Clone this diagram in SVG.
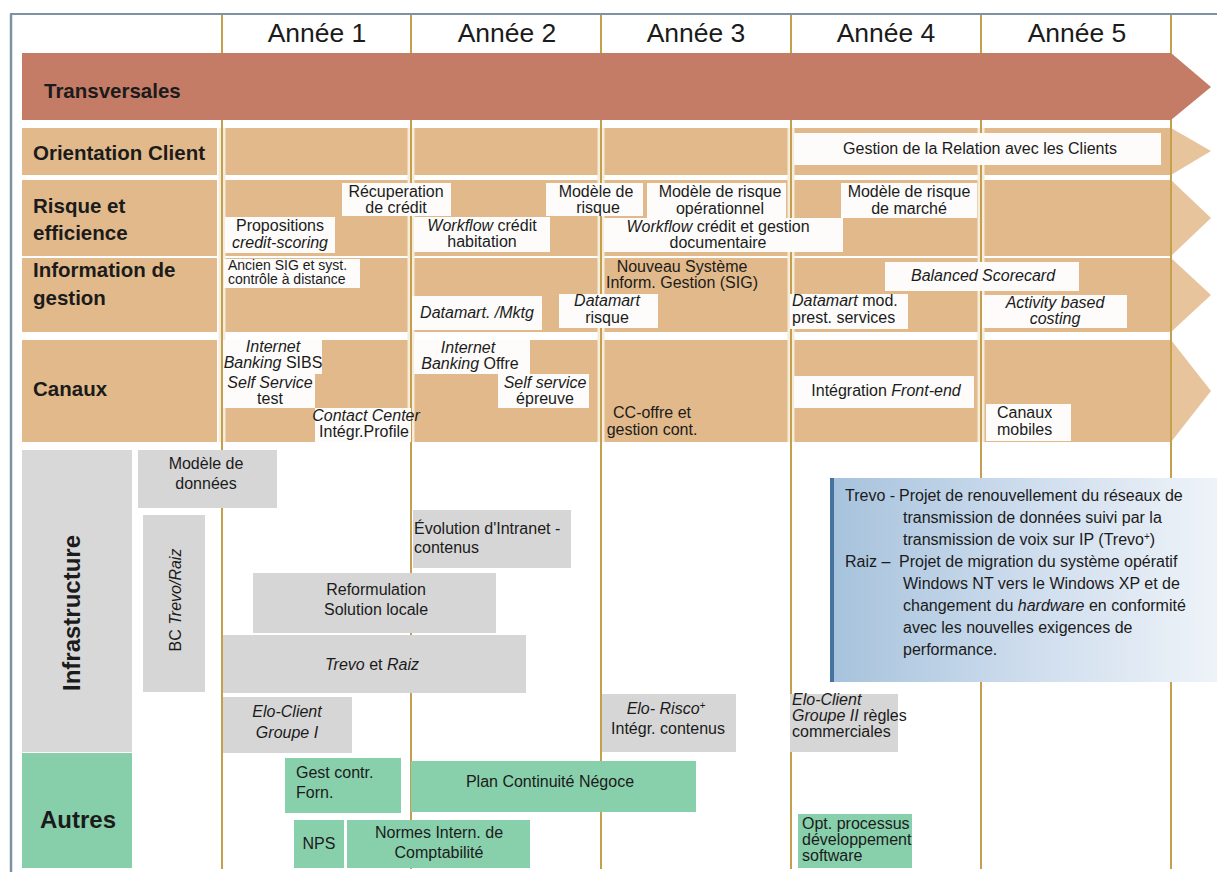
<svg xmlns="http://www.w3.org/2000/svg" width="1217" height="872" viewBox="0 0 1217 872">
<defs>
<style>
text{font-family:"Liberation Sans",Arial,Helvetica,sans-serif;font-size:16px;fill:#1b1b1b}
.c{text-anchor:middle}
.i{font-style:italic}
.lbl{font-weight:bold;font-size:20.5px}
.big{font-weight:bold;font-size:24px}
.hdr{font-size:26.5px}
.s14{font-size:14px}
.tan{fill:#e1b98a}
.head{fill:#e7c49b}
.wb{fill:#fdfcfa}
.gb{fill:#d6d6d6}
.gr{fill:#88cfab}
.col{stroke:#c4a04e;stroke-width:2}
.colw{stroke:#f6ecdc;stroke-width:7}
.nt{font-size:16px}
</style>
<linearGradient id="noteg" x1="0" y1="0" x2="1" y2="0">
<stop offset="0" stop-color="#a6c2dc"/>
<stop offset="0.5" stop-color="#cddced"/>
<stop offset="1" stop-color="#eef3f8"/>
</linearGradient>
</defs>
<rect x="0" y="0" width="1217" height="872" fill="#ffffff"/>

<g id="rows">
<rect class="tan" x="22" y="128" width="195" height="47"/>
<rect class="tan" x="222" y="128" width="949" height="47"/>
<polygon class="head" points="1171,128 1211,151 1171,175"/>
<rect class="tan" x="22" y="180" width="195" height="76"/>
<rect class="tan" x="222" y="180" width="949" height="76"/>
<polygon class="head" points="1171,180 1211,218 1171,256"/>
<rect class="tan" x="22" y="258" width="195" height="74"/>
<rect class="tan" x="222" y="258" width="949" height="74"/>
<polygon class="head" points="1171,258 1211,295 1171,332"/>
<rect class="tan" x="22" y="340" width="195" height="102"/>
<rect class="tan" x="222" y="340" width="949" height="102"/>
<polygon class="head" points="1171,340 1211,391 1171,442"/>
</g>

<g id="grid">
<g class="colw">
<line x1="222" y1="128" x2="222" y2="442"/><line x1="411" y1="128" x2="411" y2="442"/><line x1="601" y1="128" x2="601" y2="442"/><line x1="791" y1="128" x2="791" y2="442"/><line x1="981" y1="128" x2="981" y2="442"/>
</g>
<g class="col">
<line x1="222" y1="14" x2="222" y2="869"/><line x1="411" y1="14" x2="411" y2="869"/><line x1="601" y1="14" x2="601" y2="869"/><line x1="791" y1="14" x2="791" y2="869"/><line x1="981" y1="14" x2="981" y2="869"/><line x1="1171" y1="14" x2="1171" y2="869"/>
</g>
<line x1="10" y1="14" x2="1217" y2="14" stroke="#7d93a3" stroke-width="2"/>
<line x1="11" y1="14" x2="11" y2="872" stroke="#7d93a3" stroke-width="2.5"/>
</g>

<g id="header">
<text class="hdr c" x="317" y="42">Année 1</text>
<text class="hdr c" x="507" y="42">Année 2</text>
<text class="hdr c" x="696" y="42">Année 3</text>
<text class="hdr c" x="886" y="42">Année 4</text>
<text class="hdr c" x="1077" y="42">Année 5</text>
</g>

<g id="transversales">
<path d="M22,53 H1171 L1211,87 L1171,120 H22 Z" fill="#c57c67"/>
<text class="lbl" x="44" y="98">Transversales</text>
</g>

<g id="row-labels">
<text class="lbl" x="33" y="160">Orientation Client</text>
<text class="lbl" x="33" y="213">Risque et</text>
<text class="lbl" x="33" y="240">efficience</text>
<text class="lbl" x="33" y="277">Information de</text>
<text class="lbl" x="33" y="305">gestion</text>
<text class="lbl" x="33" y="396">Canaux</text>
</g>

<g id="gestion-relation"><rect class="wb" x="794" y="133" width="367" height="32"/><text class="c" x="980" y="154" font-size="16.5">Gestion de la Relation avec les Clients</text></g>

<g id="recuperation"><rect class="wb" x="342" y="183" width="109" height="33"/><text class="c" x="396" y="197">Récuperation</text><text class="c" x="396" y="213">de crédit</text></g>
<g id="modele-risque"><rect class="wb" x="546" y="183" width="97" height="33"/><text class="c" x="596" y="197">Modèle de</text><text class="c" x="598" y="213">risque</text></g>
<g id="modele-operationnel"><rect class="wb" x="647" y="183" width="139" height="35"/><text class="c" x="720" y="197">Modèle de risque</text><text class="c" x="720" y="214">opérationnel</text></g>
<g id="modele-marche"><rect class="wb" x="841" y="183" width="136" height="35"/><text class="c" x="909" y="197">Modèle de risque</text><text class="c" x="909" y="214">de marché</text></g>
<g id="propositions"><rect class="wb" x="225" y="217" width="110" height="36"/><text class="c" x="280" y="231">Propositions</text><text class="c i" x="280" y="248">credit-scoring</text></g>
<g id="workflow-habitation"><rect class="wb" x="414" y="217" width="136" height="35"/><text class="c" x="482" y="231"><tspan class="i">Workflow</tspan> crédit</text><text class="c" x="482" y="247">habitation</text></g>
<g id="workflow-documentaire"><rect class="wb" x="604" y="218" width="239" height="34"/><text class="c" x="718" y="232"><tspan class="i">Workflow</tspan> crédit et gestion</text><text class="c" x="718" y="248">documentaire</text></g>

<g id="ancien-sig"><rect class="wb" x="224" y="259" width="136" height="29"/><text class="s14" x="228" y="270">Ancien SIG et syst.</text><text class="s14" x="228" y="284">contrôle à distance</text></g>
<g id="nouveau-sig"><text class="c" x="682" y="272">Nouveau Système</text><text class="c" x="682" y="288">Inform. Gestion (SIG)</text></g>
<g id="balanced"><rect class="wb" x="885" y="262" width="194" height="29"/><text class="c i" x="983" y="281" font-size="16.5">Balanced Scorecard</text></g>
<g id="datamart-mktg"><rect class="wb" x="412" y="296" width="130" height="34"/><text class="c i" x="477" y="318">Datamart. /Mktg</text></g>
<g id="datamart-risque"><rect class="wb" x="559" y="294" width="99" height="34"/><text class="c i" x="607" y="306">Datamart</text><text class="c" x="607" y="323">risque</text></g>
<g id="datamart-mod"><rect class="wb" x="790" y="294" width="118" height="35"/><text x="792" y="306"><tspan class="i">Datamart</tspan> mod.</text><text x="792" y="323">prest. services</text></g>
<g id="activity-based"><rect class="wb" x="982" y="295" width="145" height="33"/><text class="c i" x="1055" y="308">Activity based</text><text class="c i" x="1055" y="324">costing</text></g>

<g id="ib-sibs"><rect class="wb" x="223" y="340" width="99" height="34"/><text class="c i" x="273" y="352">Internet</text><text class="c" x="273" y="368"><tspan class="i">Banking</tspan> SIBS</text></g>
<g id="self-service-test"><rect class="wb" x="223" y="374" width="92" height="34"/><text class="c i" x="270" y="388">Self Service</text><text class="c" x="270" y="404">test</text></g>
<g id="contact-center"><rect class="wb" x="315" y="408" width="96" height="34"/><text class="c i" x="366" y="421">Contact Center</text><text class="c" x="364" y="437">Intégr.Profile</text></g>
<g id="ib-offre"><rect class="wb" x="414" y="340" width="116" height="34"/><text class="c i" x="468" y="353">Internet</text><text class="c" x="470" y="369"><tspan class="i">Banking</tspan> Offre</text></g>
<g id="self-service-epreuve"><rect class="wb" x="498" y="374" width="91" height="34"/><text class="c i" x="545" y="388">Self service</text><text class="c" x="545" y="404">épreuve</text></g>
<g id="cc-offre"><text class="c" x="652" y="418">CC-offre et</text><text class="c" x="652" y="435">gestion cont.</text></g>
<g id="front-end"><rect class="wb" x="794" y="376" width="180" height="32"/><text class="c" x="886" y="396">Intégration <tspan class="i">Front-end</tspan></text></g>
<g id="canaux-mobiles"><rect class="wb" x="986" y="404" width="85" height="37"/><text x="997" y="418">Canaux</text><text x="997" y="435">mobiles</text></g>

<g id="infrastructure-label"><rect x="22" y="450" width="110" height="302" fill="#d8d8d8"/><text class="big c" transform="translate(80,613) rotate(-90)">Infrastructure</text></g>
<g id="modele-donnees"><rect class="gb" x="138" y="450" width="139" height="58"/><text class="c" x="206" y="469">Modèle de</text><text class="c" x="206" y="489">données</text></g>
<g id="bc-trevo-raiz"><rect class="gb" x="143" y="515" width="62" height="177"/><text class="c" transform="translate(181,600) rotate(-90)">BC <tspan class="i">Trevo/Raiz</tspan></text></g>
<g id="evolution-intranet"><rect class="gb" x="413" y="510" width="158" height="58"/><text x="414" y="534">Évolution d'Intranet -</text><text x="414" y="553">contenus</text></g>
<g id="reformulation"><rect class="gb" x="253" y="573" width="243" height="60"/><text class="c" x="376" y="595">Reformulation</text><text class="c" x="376" y="615">Solution locale</text></g>
<g id="trevo-et-raiz"><rect class="gb" x="223" y="635" width="303" height="58"/><text class="c" x="372" y="670"><tspan class="i">Trevo</tspan> et <tspan class="i">Raiz</tspan></text></g>
<g id="elo-client-1"><rect class="gb" x="223" y="697" width="129" height="56"/><text class="c i" x="287" y="717">Elo-Client</text><text class="c i" x="287" y="738">Groupe I</text></g>
<g id="elo-risco"><rect class="gb" x="602" y="694" width="134" height="58"/><text class="c i" x="666" y="714">Elo- Risco<tspan font-size="10" dy="-5">+</tspan></text><text class="c" x="668" y="734">Intégr. contenus</text></g>
<g id="elo-client-2"><rect class="gb" x="790" y="694" width="108" height="58"/><text class="i" x="792" y="705">Elo-Client</text><text x="792" y="721"><tspan class="i">Groupe II</tspan> règles</text><text x="792" y="737">commerciales</text></g>

<g id="note">
<rect x="830" y="478" width="387" height="204" fill="url(#noteg)"/>
<rect x="830" y="478" width="4" height="204" fill="#46739e"/>
<text class="nt" x="845" y="501">Trevo -</text><text class="nt" x="899" y="501">Projet de renouvellement du réseaux de</text>
<text class="nt" x="903" y="523">transmission de données suivi par la</text>
<text class="nt" x="903" y="545">transmission de voix sur IP (Trevo<tspan font-size="10" dy="-5">+</tspan><tspan dy="5">)</tspan></text>
<text class="nt" x="845" y="567">Raiz –</text><text class="nt" x="899" y="567">Projet de migration du système opératif</text>
<text class="nt" x="903" y="589">Windows NT vers le Windows XP et de</text>
<text class="nt" x="903" y="611">changement du <tspan class="i">hardware</tspan> en conformité</text>
<text class="nt" x="903" y="633">avec les nouvelles exigences de</text>
<text class="nt" x="903" y="655">performance.</text>
</g>

<g id="autres-label"><rect x="22" y="753" width="110" height="115" fill="#87cfaa"/><text class="big c" x="78" y="828">Autres</text></g>
<g id="gest-contr"><rect class="gr" x="285" y="758" width="116" height="55"/><text x="296" y="778">Gest contr.</text><text x="296" y="798">Forn.</text></g>
<g id="plan-continuite"><rect class="gr" x="411" y="761" width="285" height="51"/><text class="c" x="550" y="787">Plan Continuité Négoce</text></g>
<g id="nps"><rect class="gr" x="294" y="820" width="50" height="48"/><text class="c" x="319" y="849">NPS</text></g>
<g id="normes"><rect class="gr" x="347" y="820" width="183" height="48"/><text class="c" x="439" y="838">Normes Intern. de</text><text class="c" x="439" y="858">Comptabilité</text></g>
<g id="opt-processus"><rect class="gr" x="798" y="814" width="114" height="54"/><text x="802" y="829">Opt. processus</text><text x="802" y="845">développement</text><text x="802" y="861">software</text></g>
</svg>
